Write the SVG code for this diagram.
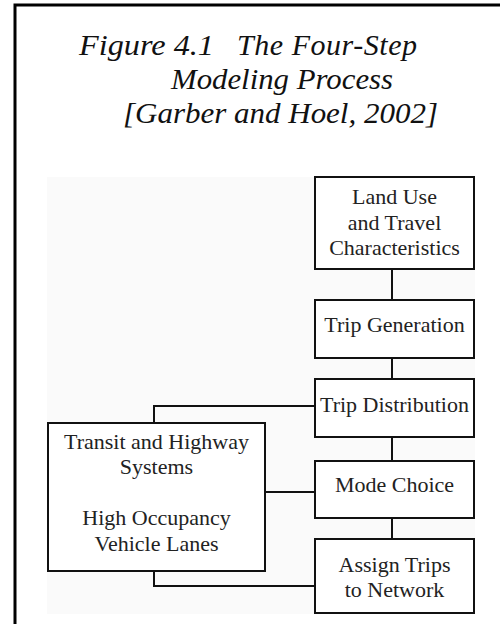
<svg xmlns="http://www.w3.org/2000/svg" width="500" height="624" viewBox="0 0 500 624">
<style>
.box{fill:#ffffff;stroke:#111;stroke-width:2}
.t{font-family:"Liberation Serif","Times New Roman",serif;font-size:22px;fill:#222;text-anchor:middle}
.ti{font-family:"Liberation Serif","Times New Roman",serif;font-size:30px;font-style:italic;fill:#111}
.c{fill:none;stroke:#111;stroke-width:2}
</style>
<rect width="500" height="624" fill="#ffffff"/>
<path d="M15,624 V5 H500" fill="none" stroke="#000" stroke-width="3"/>
<rect x="47" y="177" width="428" height="437" fill="#fafafa"/>
<g id="title">
<text class="ti" x="79" y="55" textLength="135" lengthAdjust="spacingAndGlyphs">Figure 4.1</text>
<text class="ti" x="237" y="55" textLength="180" lengthAdjust="spacing">The Four-Step</text>
<text class="ti" x="171" y="89" textLength="222" lengthAdjust="spacingAndGlyphs">Modeling Process</text>
<text class="ti" x="123" y="123" textLength="315" lengthAdjust="spacingAndGlyphs">[Garber and Hoel, 2002]</text>
</g>
<g id="connectors">
<path class="c" d="M392,269 V300"/>
<path class="c" d="M392,358 V379"/>
<path class="c" d="M392,437 V461"/>
<path class="c" d="M392,518 V539"/>
<path class="c" d="M315,406 H154 V423"/>
<path class="c" d="M265,492 H315"/>
<path class="c" d="M154,571 V586 H315"/>
</g>
<g id="land-use">
<rect class="box" x="315" y="177" width="159" height="92"/>
<text class="t" x="394.5" y="204">Land Use</text>
<text class="t" x="394.5" y="229.5">and Travel</text>
<text class="t" x="394.5" y="255">Characteristics</text>
</g>
<g id="trip-generation">
<rect class="box" x="315" y="300" width="159" height="58"/>
<text class="t" x="394.5" y="332">Trip Generation</text>
</g>
<g id="trip-distribution">
<rect class="box" x="315" y="379" width="159" height="58"/>
<text class="t" x="394.5" y="412">Trip Distribution</text>
</g>
<g id="mode-choice">
<rect class="box" x="315" y="461" width="159" height="57"/>
<text class="t" x="394.5" y="492">Mode Choice</text>
</g>
<g id="assign-trips">
<rect class="box" x="315" y="539" width="159" height="74"/>
<text class="t" x="394.5" y="572">Assign Trips</text>
<text class="t" x="394.5" y="597">to Network</text>
</g>
<g id="transit">
<rect class="box" x="48" y="423" width="217" height="148"/>
<text class="t" x="156.5" y="449">Transit and Highway</text>
<text class="t" x="156.5" y="474">Systems</text>
<text class="t" x="156.5" y="525">High Occupancy</text>
<text class="t" x="156.5" y="551">Vehicle Lanes</text>
</g>
</svg>
